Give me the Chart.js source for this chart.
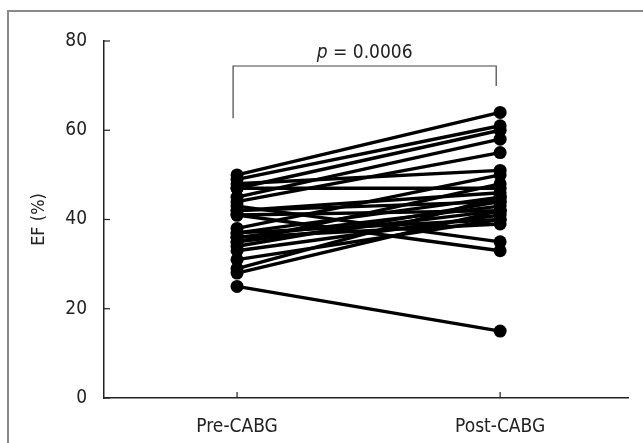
<!DOCTYPE html>
<html>
<head>
<meta charset="utf-8">
<script src="https://cdn.jsdelivr.net/npm/chart.js@4.4.0/dist/chart.umd.min.js"></script>
<style>
  html, body { margin: 0; padding: 0; background: #fff; }
  #wrap { position: relative; width: 643px; height: 443px; overflow: hidden; }
  #frame { position: absolute; left: 7px; top: 10px; width: 700px; height: 500px;
           border-left: 2px solid #8a8a8a; border-top: 2px solid #8a8a8a; }
  canvas { position: absolute; left: 0; top: 0; }
</style>
</head>
<body>
<div id="wrap">
  <div id="frame"></div>
  <canvas id="c" width="643" height="443"></canvas>
</div>
<script>
const categories = ['Pre-CABG', 'Post-CABG'];
const preValues  = [50, 49, 48, 47, 47, 45, 44, 43, 42, 42, 41, 41, 38, 37, 37, 36, 36, 35, 35, 34, 33, 31, 29, 28, 25];
const postValues = [64, 61, 51, 60, 47, 58, 55, 35, 46, 44, 33, 42, 50, 45, 40, 43, 39, 48, 42, 44, 41, 40, 45, 42, 15];
const yTicks = [0, 20, 40, 60, 80];
const pValueText = 'p = 0.0006';

const FONT = '"DejaVu Sans Condensed", "Liberation Sans Narrow", "Open Sans", sans-serif';

const datasets = preValues.map((pre, i) => ({
  data: [{x: 0, y: pre}, {x: 1, y: postValues[i]}],
  borderColor: '#000',
  backgroundColor: '#000',
  borderWidth: 3.4,
  pointRadius: 6.5,
  pointBackgroundColor: '#000',
  pointBorderColor: '#000',
  pointBorderWidth: 0,
  tension: 0
}));

const extras = {
  id: 'extras',
  afterDraw(chart) {
    const ctx = chart.ctx;
    const xs = chart.scales.x, ys = chart.scales.y;
    const ax = ys.left + ys.width; // axis x
    const ay = xs.top;             // axis y
    ctx.save();
    ctx.strokeStyle = '#222';
    ctx.lineWidth = 1.2;
    // inward ticks on y
    yTicks.forEach(v => {
      const py = ys.getPixelForValue(v);
      ctx.beginPath(); ctx.moveTo(ax, py); ctx.lineTo(ax + 6, py); ctx.stroke();
    });
    // inward ticks on x
    [0, 1].forEach(v => {
      const px = xs.getPixelForValue(v);
      ctx.beginPath(); ctx.moveTo(px, ay); ctx.lineTo(px, ay - 6); ctx.stroke();
    });
    // significance bracket
    const x0 = xs.getPixelForValue(-0.015), x1 = xs.getPixelForValue(0.985);
    const yTop = ys.getPixelForValue(74.4);
    const yL = ys.getPixelForValue(62.7), yR = ys.getPixelForValue(69.9);
    ctx.strokeStyle = '#444';
    ctx.lineWidth = 1.2;
    ctx.beginPath();
    ctx.moveTo(x0, yL); ctx.lineTo(x0, yTop); ctx.lineTo(x1, yTop); ctx.lineTo(x1, yR);
    ctx.stroke();
    // p value text
    const cx = (x0 + x1) / 2;
    ctx.fillStyle = '#222';
    ctx.textBaseline = 'alphabetic';
    const rest = pValueText.slice(1);
    ctx.font = 'italic 19px ' + FONT;
    const wP = ctx.measureText('p').width;
    ctx.font = '19px ' + FONT;
    const wR = ctx.measureText(rest).width;
    const startX = cx - (wP + wR) / 2;
    const base = yTop - 8;
    ctx.font = 'italic 19px ' + FONT;
    ctx.textAlign = 'left';
    ctx.fillText('p', startX, base);
    ctx.font = '19px ' + FONT;
    ctx.fillText(rest, startX + wP, base);
    ctx.restore();
  }
};

new Chart(document.getElementById('c'), {
  type: 'line',
  data: { datasets },
  options: {
    responsive: false,
    animation: false,
    devicePixelRatio: 1,
    plugins: { legend: { display: false }, tooltip: { enabled: false } },
    layout: { padding: { left: 0, right: 15, top: 41, bottom: 0 } },
    scales: {
      x: {
        type: 'linear',
        min: -0.5057,
        max: 1.486,
        grid: { display: false },
        border: { display: true, color: '#222', width: 1.5 },
        afterBuildTicks(scale) { scale.ticks = [{value: 0}, {value: 1}]; },
        afterFit(scale) { scale.height = 45; },
        ticks: {
          padding: 10,
          color: '#222',
          font: { family: FONT, size: 19 },
          callback: (v) => categories[v]
        }
      },
      y: {
        min: 0,
        max: 80,
        grid: { display: false },
        border: { display: true, color: '#222', width: 1.5 },
        afterBuildTicks(scale) { scale.ticks = yTicks.map(v => ({value: v})); },
        afterFit(scale) { scale.width = 104; },
        title: {
          display: true,
          text: 'EF (%)',
          color: '#222',
          font: { family: FONT, size: 18 },
          padding: { top: 29, bottom: 0 }
        },
        ticks: {
          padding: 9,
          color: '#222',
          font: { family: FONT, size: 19 }
        }
      }
    }
  },
  plugins: [extras]
});
</script>
</body>
</html>
